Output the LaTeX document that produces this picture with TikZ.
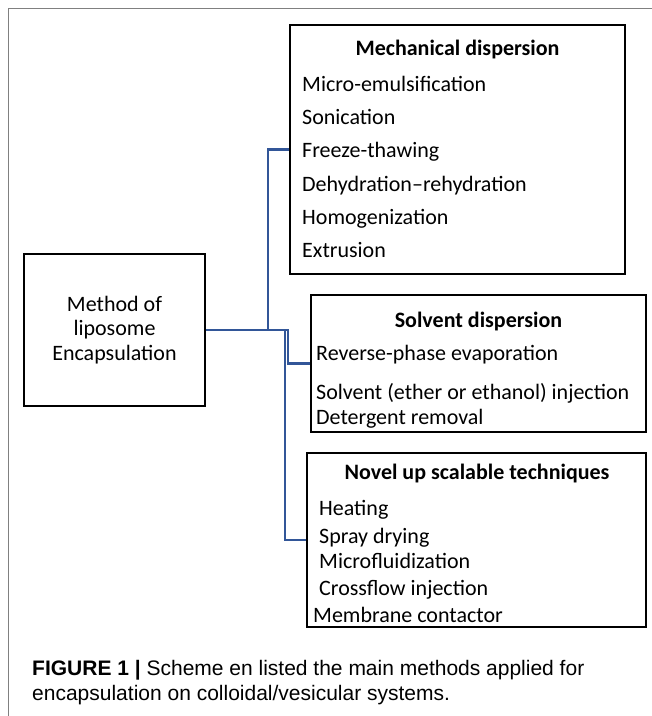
\documentclass[tikz,border=0pt]{standalone}
\usepackage{fontspec}
\setmainfont{Carlito}
\newfontfamily\capfont{Liberation Sans}
\definecolor{conn}{RGB}{50,86,152}
\definecolor{framegray}{RGB}{128,128,128}
\begin{document}
\begin{tikzpicture}[x=1pt,y=-1pt,
  box/.style={draw=black,line width=2.6pt,inner sep=0pt},
  item/.style={anchor=base west,inner sep=0pt,font=\fontsize{22}{26}\selectfont},
  head/.style={anchor=base,inner sep=0pt,font=\fontsize{22}{26}\selectfont\bfseries},
  link/.style={draw=conn,line width=2.3pt},
  captext/.style={anchor=base west,inner sep=0pt,font=\capfont\fontsize{21}{24}\selectfont}]
\useasboundingbox (0,0) rectangle (652,716);
\draw[framegray,line width=1.2pt] (8.5,716) -- (8.5,8.5) -- (652,8.5);

% boxes
\node[box,minimum width=181pt,minimum height=152pt,align=center,
      font=\fontsize{22}{24.5}\selectfont] (main) at (114.5,330)
      {Method of\\liposome\\Encapsulation};
\node[box,minimum width=335pt,minimum height=249pt] (mech) at (457.5,149.5) {};
\node[box,minimum width=335pt,minimum height=137pt] (solv) at (478.5,363.5) {};
\node[box,minimum width=339pt,minimum height=174pt] (novel) at (476.5,540) {};

% connectors
\draw[link] (main.east) -- ++(62,0) |- (mech.west);
\draw[link] (main.east) -- ++(82,0) |- (solv.west);
\draw[link] (main.east) -- ++(79,0) |- (novel.west);

% mechanical dispersion
\node[head] (mh) at (457.5,55) {Mechanical dispersion};
\node[item] (m1) at (302,91) {Micro-emulsification};
\node[item] (m2) at (302,124) {Sonication};
\node[item] (m3) at (302,157) {Freeze-thawing};
\node[item] (m4) at (302,191) {Dehydration–rehydration};
\node[item] (m5) at (302,224) {Homogenization};
\node[item] (m6) at (302,257) {Extrusion};

% solvent dispersion
\node[head] (sh) at (478.5,327) {Solvent dispersion};
\node[item] (s1) at (316,360) {Reverse-phase evaporation};
\node[item] (s2) at (316,399) {Solvent (ether or ethanol) injection};
\node[item] (s3) at (316,424) {Detergent removal};

% novel techniques
\node[head] (nh) at (477,479) {Novel up scalable techniques};
\node[item] (n1) at (319,515) {Heating};
\node[item] (n2) at (319,543) {Spray drying};
\node[item] (n3) at (319,568) {Microfluidization};
\node[item] (n4) at (319,595) {Crossflow injection};
\node[item] (n5) at (313,622) {Membrane contactor};

% caption
\node[captext] (cap1) at (32,675) {\textbf{FIGURE 1 |} Scheme en listed the main methods applied for};
\node[captext] (cap2) at (32,700) {encapsulation on colloidal/vesicular systems.};
\end{tikzpicture}
\end{document}
